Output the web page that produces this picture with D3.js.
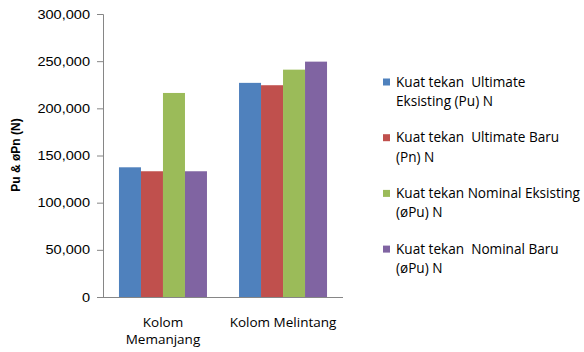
<!DOCTYPE html>
<html>
<head>
<meta charset="utf-8">
<script src="https://cdn.jsdelivr.net/npm/d3@7"></script>
<style>
  body { margin: 0; background: #fff; }
  svg { display: block; }
  text { white-space: pre; }
</style>
</head>
<body>
<svg id="chart" width="584" height="352"></svg>
<script>
// data
const categories = ["Kolom Memanjang", "Kolom Melintang"];
const categoryLines = [["Kolom", "Memanjang"], ["Kolom Melintang"]];
const seriesNames = [
  "Kuat tekan  Ultimate Eksisting (Pu) N",
  "Kuat tekan  Ultimate Baru (Pn) N",
  "Kuat tekan Nominal Eksisting (øPu) N",
  "Kuat tekan  Nominal Baru (øPu) N",
];
const legendLines = [
  ["Kuat tekan  Ultimate", "Eksisting (Pu) N"],
  ["Kuat tekan  Ultimate Baru", "(Pn) N"],
  ["Kuat tekan Nominal Eksisting", "(øPu) N"],
  ["Kuat tekan  Nominal Baru", "(øPu) N"],
];
const ultimateEksisting = [137500, 227000];
const ultimateBaru = [133300, 224500];
const nominalEksisting = [216300, 241000];
const nominalBaru = [133300, 249500];
const yTicks = [0, 50000, 100000, 150000, 200000, 250000, 300000];
const colors = ["#4F81BD", "#C0504D", "#9BBB59", "#8064A2"];

const series = [ultimateEksisting, ultimateBaru, nominalEksisting, nominalBaru];

const svg = d3.select("#chart");
const plot = { left: 103, right: 343, top: 14, bottom: 297 };

const x = d3
  .scaleBand()
  .domain(categories)
  .range([plot.left, plot.right])
  .paddingInner(0.267)
  .paddingOuter(0.133);

const xs = d3
  .scaleBand()
  .domain(d3.range(series.length))
  .range([0, x.bandwidth()]);

const y = d3.scaleLinear().domain([0, 300000]).range([plot.bottom, plot.top]);

const color = d3.scaleOrdinal().domain(d3.range(series.length)).range(colors);

// bars
const groups = svg
  .append("g")
  .selectAll("g")
  .data(categories)
  .join("g")
  .attr("transform", (d) => `translate(${x(d)},0)`);

groups
  .selectAll("rect")
  .data((d, ci) => series.map((s, si) => ({ si, v: s[ci] })))
  .join("rect")
  .attr("x", (d) => xs(d.si))
  .attr("width", xs.bandwidth())
  .attr("y", (d) => y(d.v))
  .attr("height", (d) => y(0) - y(d.v))
  .attr("fill", (d) => color(d.si));

// y axis
const yAxis = svg
  .append("g")
  .attr("transform", `translate(${plot.left},0)`)
  .call(
    d3.axisLeft(y)
      .tickValues(yTicks)
      .tickSize(6)
      .tickPadding(7)
      .tickFormat(d3.format(","))
  );
yAxis.selectAll("path, line").attr("stroke", "#868686");
yAxis
  .selectAll("text")
  .attr("font-family", "Liberation Sans, Arial, sans-serif")
  .attr("font-size", 13)
  .attr("fill", "#000")
  .attr("transform", "scale(1.12,1)")
  .attr("x", function () { return +d3.select(this).attr("x") / 1.12; });
yAxis.select(".domain").attr("d", `M-6,${plot.top}.5H0.5V${plot.bottom}.5`);

// x axis line
svg
  .append("line")
  .attr("x1", plot.left)
  .attr("x2", plot.right)
  .attr("y1", plot.bottom + 0.5)
  .attr("y2", plot.bottom + 0.5)
  .attr("stroke", "#868686");

// category labels
svg
  .append("g")
  .selectAll("text")
  .data(categories)
  .join("text")
  .attr("text-anchor", "middle")
  .attr("font-family", "Open Sans, sans-serif")
  .attr("font-size", 13.5)
  .attr("fill", "#000")
  .attr("x", (d) => x(d) + x.bandwidth() / 2)
  .attr("y", 327)
  .each(function (d, i) {
    d3.select(this)
      .selectAll("tspan")
      .data(categoryLines[i])
      .join("tspan")
      .attr("x", x(d) + x.bandwidth() / 2)
      .attr("dy", (t, j) => (j === 0 ? 0 : 17))
      .text((t) => t);
  });

// y axis title
svg
  .append("text")
  .attr("transform", "translate(20,155) rotate(-90)")
  .attr("text-anchor", "middle")
  .attr("font-family", "Liberation Sans, Arial, sans-serif")
  .attr("font-weight", "bold")
  .attr("font-size", 12)
  .attr("fill", "#000")
  .text("Pu & øPn (N)");

// legend
const legend = svg
  .append("g")
  .selectAll("g")
  .data(seriesNames)
  .join("g")
  .attr("transform", (d, i) => `translate(383,${82 + i * 55.7})`);

legend
  .append("rect")
  .attr("x", 0)
  .attr("y", -3.5)
  .attr("width", 7)
  .attr("height", 7)
  .attr("fill", (d, i) => color(i));

legend
  .append("text")
  .attr("font-family", "Open Sans, sans-serif")
  .attr("font-size", 13.6)
  .attr("fill", "#000")
  .each(function (d, i) {
    d3.select(this)
      .selectAll("tspan")
      .data(legendLines[i])
      .join("tspan")
      .attr("x", 13)
      .attr("y", (t, j) => 4.5 + j * 19.5)
      .text((t) => t);
  });
</script>
</body>
</html>
